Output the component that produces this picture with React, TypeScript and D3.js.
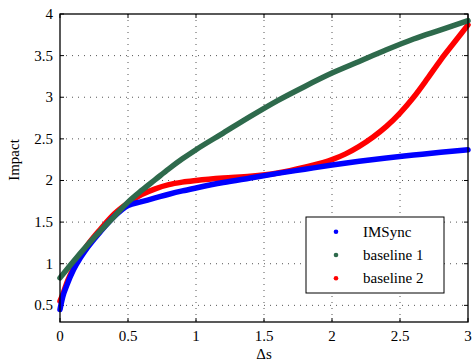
import React from "react";
import * as d3 from "d3";

const xTicks = [0, 0.5, 1, 1.5, 2, 2.5, 3];
const yTicks = [0.5, 1, 1.5, 2, 2.5, 3, 3.5, 4];

const imsyncX = [0, 0.02, 0.05, 0.1, 0.15, 0.2, 0.3, 0.4, 0.5, 0.6, 0.7, 0.8, 0.9, 1.0, 1.2, 1.4, 1.6, 1.8, 2.0, 2.2, 2.4, 2.6, 2.8, 3.0];
const imsyncY = [0.45, 0.6, 0.74, 0.93, 1.07, 1.19, 1.39, 1.57, 1.7, 1.745, 1.79, 1.835, 1.875, 1.91, 1.975, 2.03, 2.085, 2.135, 2.185, 2.23, 2.27, 2.305, 2.34, 2.37];

const base1X = [0, 0.1, 0.2, 0.3, 0.4, 0.5, 0.6, 0.7, 0.8, 0.9, 1.0, 1.2, 1.4, 1.6, 1.8, 2.0, 2.2, 2.4, 2.6, 2.8, 3.0];
const base1Y = [0.83, 1.03, 1.22, 1.4, 1.57, 1.74, 1.88, 2.01, 2.14, 2.26, 2.37, 2.57, 2.77, 2.96, 3.13, 3.29, 3.43, 3.57, 3.7, 3.81, 3.92];

const base2X = [0, 0.02, 0.05, 0.1, 0.15, 0.2, 0.3, 0.4, 0.5, 0.6, 0.7, 0.8, 0.9, 1.0, 1.2, 1.4, 1.6, 1.8, 2.0, 2.1, 2.2, 2.3, 2.4, 2.5, 2.6, 2.7, 2.8, 2.9, 3.0];
const base2Y = [0.55, 0.63, 0.77, 0.95, 1.1, 1.22, 1.42, 1.6, 1.73, 1.83, 1.9, 1.95, 1.98, 2.0, 2.03, 2.05, 2.09, 2.16, 2.25, 2.32, 2.41, 2.52, 2.65, 2.81, 3.0, 3.22, 3.45, 3.66, 3.87];

const seriesNames = ["IMSync", "baseline 1", "baseline 2"];
const seriesColors = ["#0000ff", "#2e6a4c", "#ff0000"];

export default function App() {
  const W = 472, H = 362;
  const left = 60, right = 468, top = 14, bottom = 322;
  const x = d3.scaleLinear().domain([0, 3]).range([left, right]);
  const y = d3.scaleLinear().domain([0.3, 4]).range([bottom, top]);
  const font = "Liberation Serif";
  const fs = 15;

  const series = [
    { xs: imsyncX, ys: imsyncY, c: seriesColors[0] },
    { xs: base1X, ys: base1Y, c: seriesColors[1] },
    { xs: base2X, ys: base2Y, c: seriesColors[2] },
  ];
  const line = d3
    .line<[number, number]>()
    .x((d) => x(d[0]))
    .y((d) => y(d[1]))
    .curve(d3.curveMonotoneX);
  const drawOrder = [2, 0, 1];

  const legX = 306, legY = 217, legW = 138, legH = 76;
  const rowY = [231.7, 255, 278.3];

  return (
    <svg width={W} height={H} fontFamily={font} style={{ position: "absolute", left: 0, top: 0 }}>
      <rect x={0} y={0} width={W} height={H} fill="#fff" />
      <g stroke="#555" strokeWidth={1} strokeDasharray="1,5">
        {xTicks.slice(1, -1).map((t) => (
          <line key={"gx" + t} x1={x(t)} x2={x(t)} y1={top} y2={bottom} />
        ))}
        {yTicks.slice(0, -1).map((t) => (
          <line key={"gy" + t} x1={left} x2={right} y1={y(t)} y2={y(t)} />
        ))}
      </g>
      <g stroke="#000" strokeWidth={1}>
        {xTicks.map((t) => (
          <g key={"tx" + t}>
            <line x1={x(t)} x2={x(t)} y1={bottom} y2={bottom - 4} />
            <line x1={x(t)} x2={x(t)} y1={top} y2={top + 4} />
          </g>
        ))}
        {yTicks.map((t) => (
          <g key={"ty" + t}>
            <line x1={left} x2={left + 4} y1={y(t)} y2={y(t)} />
            <line x1={right} x2={right - 4} y1={y(t)} y2={y(t)} />
          </g>
        ))}
      </g>
      <g fill="none" strokeLinecap="round" strokeLinejoin="round">
        {drawOrder.map((i) => {
          const s = series[i];
          const pts = s.xs.map((v, k) => [v, s.ys[k]] as [number, number]);
          return <path key={i} d={line(pts) || ""} stroke={s.c} strokeWidth={5.5} />;
        })}
      </g>
      <rect x={left} y={top} width={right - left} height={bottom - top} fill="none" stroke="#000" strokeWidth={1.3} />
      {xTicks.map((t) => (
        <text key={"lx" + t} x={x(t)} y={341} textAnchor="middle" fontFamily={font} fontSize={fs} fill="#000">
          {String(t)}
        </text>
      ))}
      {yTicks.map((t) => (
        <text key={"ly" + t} x={53} y={y(t) + 5} textAnchor="end" fontFamily={font} fontSize={fs} fill="#000">
          {String(t)}
        </text>
      ))}
      <text x={(left + right) / 2} y={359} textAnchor="middle" fontFamily={font} fontSize={fs} fill="#000">
        Δs
      </text>
      <text
        transform={`translate(19,${(top + bottom) / 2 - 8}) rotate(-90)`}
        textAnchor="middle"
        fontFamily={font}
        fontSize={fs}
        fill="#000"
      >
        Impact
      </text>
      <rect x={legX} y={legY} width={legW} height={legH} fill="#fff" stroke="#000" strokeWidth={1} />
      {seriesNames.map((n, i) => (
        <g key={n}>
          <circle cx={336} cy={rowY[i]} r={2.3} fill={seriesColors[i]} />
          <text x={363} y={rowY[i] + 5} fontFamily={font} fontSize={fs} fill="#000">
            {n}
          </text>
        </g>
      ))}
    </svg>
  );
}
